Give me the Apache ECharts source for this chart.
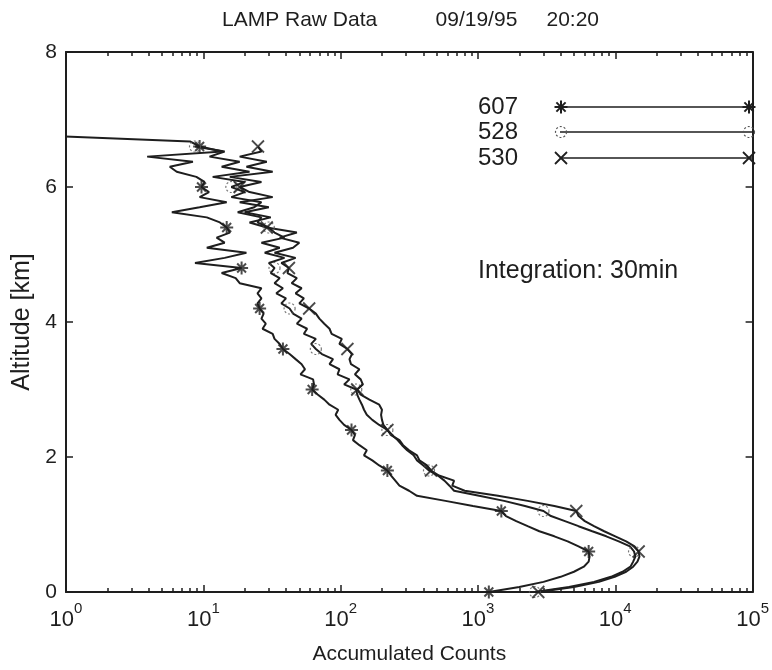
<!DOCTYPE html>
<html><head><meta charset="utf-8">
<script src="https://cdn.jsdelivr.net/npm/echarts@6/dist/echarts.min.js"></script>
<style>html,body{margin:0;padding:0;background:#fff}#c{width:772px;height:670px}</style>
</head><body><div id="c"></div>
<script>
// ---- data (altitude in km, accumulated counts) ----
const altitude = [0,0.075,0.15,0.225,0.3,0.375,0.45,0.525,0.6,0.675,0.75,0.825,0.9,0.975,1.05,1.125,1.2,1.275,1.35,1.425,1.5,1.575,1.65,1.725,1.8,1.875,1.95,2.025,2.1,2.175,2.25,2.325,2.4,2.475,2.55,2.625,2.7,2.775,2.85,2.925,3.0,3.075,3.15,3.225,3.3,3.375,3.45,3.525,3.6,3.675,3.75,3.825,3.9,3.975,4.05,4.125,4.2,4.275,4.35,4.425,4.5,4.575,4.65,4.725,4.8,4.875,4.95,5.025,5.1,5.175,5.25,5.325,5.4,5.475,5.55,5.625,5.7,5.775,5.85,5.925,6.0,6.075,6.15,6.225,6.3,6.375,6.45,6.525,6.6,6.675,6.75];
const counts607 = [1200,2000,3000,4000,5000,5900,6400,6500,6400,5400,4500,3600,2800,2300,1900,1600,1480,920,580,360,315,268,250,233,219,191,170,148,155,137,123,127,120,106,98,92,96,83,76,68,62,64,63,51,55,52,47,42.5,38,36,33,32,27,28.5,26.5,27.5,25.7,24.8,26.5,24.8,26.5,18.4,17.2,13.6,19,8.7,14.3,20.6,10.6,14.3,12.5,15.6,14.8,13.2,10.6,5.9,9.4,14.8,9.4,11,9.7,10.2,8.9,6.4,5.7,8.4,3.9,13.8,9.4,8,0.9];
const counts528 = [2600,4600,7000,9300,11300,12900,13500,14000,13700,12800,10600,8600,6800,5400,4300,3400,3000,2200,1550,1020,670,620,570,510,440,400,360,340,305,280,260,237,219,191,170,155,148,143,137,132,130,106,116,95,98,83,88,73,66,61,66,54,57,48,52,45,42.5,37,40,34,38,33,36,31,33,30,39,28,36,26.5,39,33,30,24.8,26.5,17.8,23.5,26.5,16,20,16,20,11.7,21.7,13.6,18.4,11.1,14.3,8.7,null,null];
const counts530 = [2750,5000,7600,9900,12000,13500,14500,15000,14800,13800,12000,10000,8300,7000,6000,5400,5200,3600,2300,1400,800,650,670,520,455,425,375,360,315,285,268,233,219,205,200,197,200,191,162,140,132,145,140,127,137,119,116,121,112,98,102,86,83,76,70,66,59,50,54,47,52,44,48,41,42,37,47,33,45,50,36,48,29,21.7,31,20,30,18.4,32,21.7,18.4,26.5,15.6,32,20.6,29,18.4,26.5,25,null,null];
const seriesNames = ['607','528','530'];
const xMajorTicks = [1,10,100,1000,10000,100000];
const xTickExponents = ['0','1','2','3','4','5'];
const xMinorTicks = [2,3,4,5,6,7,8,9,20,30,40,50,60,70,80,90,200,300,400,500,600,700,800,900,2000,3000,4000,5000,6000,7000,8000,9000,20000,30000,40000,50000,60000,70000,80000,90000];
const yTicks = [0,2,4,6,8];
const markerEvery = 8;

const FONT = 'Liberation Sans, Arial, sans-serif';
const INK = '#1e1e1e';
const STAR = 'path://M0,5L10,5M5,0L5,10M1.6,1.6L8.4,8.4M8.4,1.6L1.6,8.4';
const CROSS = 'path://M0,0L10,10M10,0L0,10';

function pairs(vals) {
  const out = [];
  vals.forEach((v, i) => { if (v !== null) out.push([v, altitude[i]]); });
  return out;
}
function markers(vals) {
  const out = [];
  vals.forEach((v, i) => { if (v !== null && i % markerEvery === 0) out.push([v, altitude[i]]); });
  return out;
}
const allCounts = [counts607, counts528, counts530];
const markerStyles = [
  {symbol: STAR, symbolSize: 13, itemStyle: {color: 'none', borderColor: INK, borderWidth: 2}},
  {symbol: 'circle', symbolSize: 11, itemStyle: {color: 'none', borderColor: '#555', borderWidth: 1.2, borderType: [2, 2]}},
  {symbol: CROSS, symbolSize: 12, itemStyle: {color: 'none', borderColor: INK, borderWidth: 1.8}}
];

const series = [];
allCounts.forEach((vals, k) => {
  series.push({
    name: seriesNames[k], type: 'line', data: pairs(vals), symbol: 'none',
    lineStyle: {color: INK, width: 2}, clip: true, silent: true, z: 2
  });
});
allCounts.forEach((vals, k) => {
  series.push(Object.assign({
    name: seriesNames[k] + ' markers', type: 'scatter', data: markers(vals), silent: true, z: 3
  }, markerStyles[k]));
});

// ---- legend drawn as graphic ----
const legendY = [107, 132, 158];
const graphic = [];
function lineEl(x1, y1, x2, y2, w, dash) {
  return {type: 'line', shape: {x1, y1, x2, y2}, style: {stroke: INK, lineWidth: w || 1.5, lineDash: dash || null}, silent: true, z: 10};
}
function drawMarker(k, cx, cy) {
  if (k === 0) {
    const r = 6.5, d = 4.6;
    graphic.push(lineEl(cx - r, cy, cx + r, cy, 2), lineEl(cx, cy - r, cx, cy + r, 2),
      lineEl(cx - d, cy - d, cx + d, cy + d, 2), lineEl(cx + d, cy - d, cx - d, cy + d, 2));
  } else if (k === 1) {
    graphic.push({type: 'circle', shape: {cx, cy, r: 5.5}, style: {fill: 'none', stroke: '#555', lineWidth: 1.2, lineDash: [2, 2]}, silent: true, z: 10});
  } else {
    const d = 6;
    graphic.push(lineEl(cx - d, cy - d, cx + d, cy + d, 1.8), lineEl(cx + d, cy - d, cx - d, cy + d, 1.8));
  }
}
seriesNames.forEach((n, k) => {
  const y = legendY[k];
  graphic.push({type: 'text', x: 478, y: y, style: {text: n, font: '24px ' + FONT, fill: INK, textVerticalAlign: 'middle'}, silent: true, z: 10});
  graphic.push(lineEl(560, y, 752, y, 1.6));
  drawMarker(k, 561, y);
  drawMarker(k, 749, y);
});
graphic.push({type: 'text', x: 478, y: 271, style: {text: 'Integration: 30min', font: '25px ' + FONT, fill: INK, textVerticalAlign: 'middle'}, silent: true, z: 10});

const axisLine = {show: true, lineStyle: {color: INK, width: 2}};
function xAx(pos, ticks, len, main) {
  return {
    type: 'log', logBase: 10, min: 1, max: 100000, position: pos, gridIndex: 0,
    axisLine: main ? axisLine : {show: false},
    axisTick: {show: true, inside: true, length: len, customValues: ticks, lineStyle: {color: INK, width: 1.5}},
    axisLabel: {show: false}, splitLine: {show: false}, minorTick: {show: false}
  };
}
const xBottom = xAx('bottom', xMajorTicks, 7, true);
xBottom.axisLabel = {
  show: true, customValues: xMajorTicks, margin: 9,
  formatter: function (v) {
    const i = xMajorTicks.findIndex(t => Math.abs(t - v) / t < 1e-6);
    return '{b|10}{e|' + (i >= 0 ? xTickExponents[i] : '') + '}';
  },
  rich: {
    b: {fontSize: 22, fontFamily: FONT, color: INK, lineHeight: 38, verticalAlign: 'middle'},
    e: {fontSize: 15, fontFamily: FONT, color: INK, lineHeight: 13, verticalAlign: 'top'}
  }
};
xBottom.name = 'Accumulated Counts';
xBottom.nameLocation = 'middle';
xBottom.nameGap = 52;
xBottom.nameTextStyle = {fontSize: 21, fontFamily: FONT, color: INK};

const option = {
  backgroundColor: '#fff',
  animation: false,
  title: {text: 'LAMP Raw Data          09/19/95     20:20', left: 217, top: 5,
    textStyle: {fontSize: 21, fontWeight: 'normal', fontFamily: FONT, color: INK}},
  grid: {left: 66, right: 18, top: 52, bottom: 73, containLabel: false},
  xAxis: [xBottom, xAx('bottom', xMinorTicks, 4, false), xAx('top', xMajorTicks, 7, true), xAx('top', xMinorTicks, 4, false)],
  yAxis: [
    {type: 'value', min: 0, max: 8, interval: 2, position: 'left',
      axisLine: axisLine, axisTick: {show: true, inside: true, length: 7, customValues: yTicks, lineStyle: {color: INK, width: 1.5}},
      axisLabel: {show: true, customValues: yTicks, margin: 9, fontSize: 21, fontFamily: FONT, color: INK},
      splitLine: {show: false},
      name: 'Altitude [km]', nameLocation: 'middle', nameGap: 30, nameRotate: 90,
      nameTextStyle: {fontSize: 25, fontFamily: FONT, color: INK}},
    {type: 'value', min: 0, max: 8, interval: 2, position: 'right',
      axisLine: axisLine, axisTick: {show: true, inside: true, length: 7, customValues: yTicks, lineStyle: {color: INK, width: 1.5}},
      axisLabel: {show: false}, splitLine: {show: false}}
  ],
  series: series,
  graphic: graphic
};
const chart = echarts.init(document.getElementById('c'), null, {renderer: 'canvas'});
chart.setOption(option);
</script>
</body></html>
